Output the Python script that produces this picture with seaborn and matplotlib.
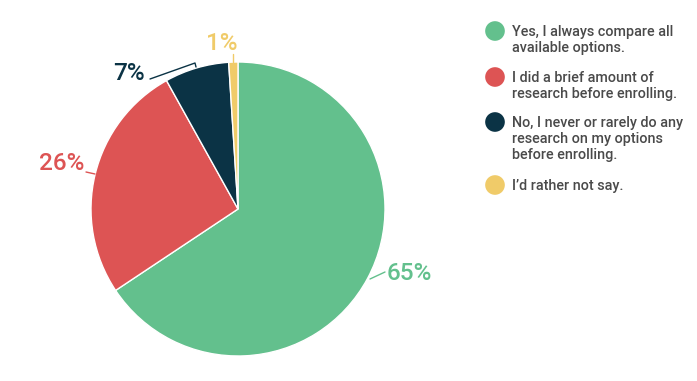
import matplotlib
matplotlib.use("Agg")
import matplotlib.pyplot as plt
import seaborn as sns

categories = [
    "Yes, I always compare all\navailable options.",
    "I did a brief amount of\nresearch before enrolling.",
    "No, I never or rarely do any\nresearch on my options\nbefore enrolling.",
    "I\u2019d rather not say.",
]
values = [65, 26, 7, 1]
pct_labels = ["65%", "26%", "7%", "1%"]
colors = ["#63C08D", "#DD5454", "#0B3345", "#F0CB69"]

sns.set_theme(style="white")
plt.rcParams["font.family"] = ["Roboto", "DejaVu Sans"]

W, H = 697, 381
fig = plt.figure(figsize=(W / 100, H / 100), dpi=100)
ax = fig.add_axes([0, 0, 1, 1])
ax.set_xlim(0, W)
ax.set_ylim(0, H)
ax.set_aspect("equal")
ax.axis("off")

def Y(y):
    return H - y

cx, cy, r = 238, 209, 147
ax.pie(values, colors=colors, startangle=90, counterclock=False,
       center=(cx, Y(cy)), radius=r,
       wedgeprops=dict(edgecolor="white", linewidth=1))
ax.set_xlim(0, W)
ax.set_ylim(0, H)

# percentage labels with leader lines (pixel coords)
label_pos = [(409, 274), (62, 163), (129, 73), (222, 44)]
leaders = [
    [(370, 279), (385, 272)],
    [(86, 172), (95, 174)],
    [(150, 79), (195, 63), (196, 67)],
    [(233, 54), (233, 62)],
]
for lab, (tx, ty), pts, col in zip(pct_labels, label_pos, leaders, colors):
    ax.text(tx, Y(ty), lab, color=col, fontsize=17.5, fontweight="medium",
            ha="center", va="center")
    ax.plot([p[0] for p in pts], [Y(p[1]) for p in pts], color=col, lw=1)

# legend
marker_y = [31, 77, 122, 185]
for cat, col, my in zip(categories, colors, marker_y):
    ax.scatter([495], [Y(my)], s=200, color=col, edgecolor="none")
    ax.text(512, Y(my - 6), cat, color="#4a4a4a", fontsize=10.4,
            fontweight="medium", ha="left", va="top", linespacing=1.2)

fig.savefig("out.png", dpi=100)
